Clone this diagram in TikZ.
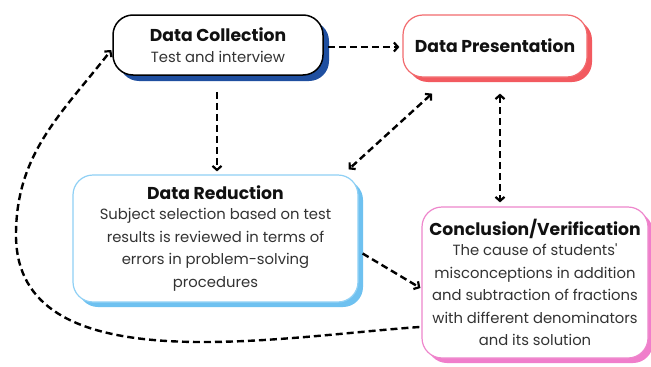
\documentclass[tikz,border=0pt]{standalone}
\usepackage{fontspec}
\setmainfont{Poppins}[Ligatures=TeXOff]
\usetikzlibrary{arrows.meta,shadows,calc}
\definecolor{dcshadow}{HTML}{1F4FA0}
\definecolor{dpborder}{HTML}{F26B6E}
\definecolor{dpshadow}{HTML}{F25A60}
\definecolor{drborder}{HTML}{8FD0F5}
\definecolor{drshadow}{HTML}{6EC1F0}
\definecolor{cvborder}{HTML}{EE86CC}
\definecolor{cvshadow}{HTML}{F07ECB}
\definecolor{bodytext}{HTML}{333333}
\definecolor{titletext}{HTML}{111111}
\newcommand{\boxtitle}[1]{{\fontsize{17.2}{20}\selectfont\bfseries\color{titletext}#1}}
\begin{document}
\begin{tikzpicture}[x=1pt,y=-1pt,
  box/.style={rectangle, rounded corners=20pt, fill=white, align=center, inner sep=0pt,
    font=\fontsize{14.8}{22.5}\selectfont, text=bodytext},
  flow/.style={draw=black, line width=2.4pt, dash pattern=on 7pt off 4pt, -{Straight Barb[length=4pt,width=9pt,line width=2.2pt]}},
  twoway/.style={flow, {Straight Barb[length=4pt,width=9pt,line width=2.2pt]}-{Straight Barb[length=4pt,width=9pt,line width=2.2pt]}}
]
\useasboundingbox (0,0) rectangle (651,367);
\fill[white] (0,0) rectangle (651,367);

\node[box, draw=black, line width=1.5pt, minimum width=210pt, minimum height=60pt,
  drop shadow={shadow xshift=6pt, shadow yshift=-6pt, fill=dcshadow, opacity=1}]
  (DC) at (218,45) {\boxtitle{Data Collection}\\[-1pt]
  Test and interview};

\node[box, draw=dpborder, line width=1.2pt, minimum width=184pt, minimum height=62pt,
  drop shadow={shadow xshift=5pt, shadow yshift=-5pt, fill=dpshadow, opacity=1}]
  (DP) at (495,46) {\boxtitle{Data Presentation}};

\node[box, draw=drborder, line width=1.2pt, minimum width=285pt, minimum height=127pt,
  drop shadow={shadow xshift=5pt, shadow yshift=-5pt, fill=drshadow, opacity=1}]
  (DR) at (215.5,238.5) {\boxtitle{Data Reduction}\\[-2pt]
  Subject selection based on test\\
  results is reviewed in terms of\\
  errors in problem-solving\\
  procedures};

\node[box, draw=cvborder, line width=1.2pt, minimum width=226pt, minimum height=151pt,
  drop shadow={shadow xshift=5pt, shadow yshift=-5pt, fill=cvshadow, opacity=1}]
  (CV) at (535,282.5) {\boxtitle{Conclusion/Verification}\\[-2.5pt]
  The cause of students'\\
  misconceptions in addition\\
  and subtraction of fractions\\
  with different denominators\\
  and its solution};

% connectors
\draw[flow] ([xshift=4pt,yshift=-2pt]DC.east) -- ([xshift=-3pt,yshift=-1pt]DP.west);
\draw[flow] ([xshift=-1pt,yshift=-16pt]DC.south) -- ([xshift=1.5pt,yshift=3pt]DR.north);
\draw[twoway] ([xshift=-63pt,yshift=-16pt]DP.south) -- ([xshift=-10pt,yshift=5pt]DR.north east);
\draw[twoway] ([xshift=5pt,yshift=-16pt]DP.south) -- ([xshift=-35pt,yshift=4pt]CV.north);
\draw[flow] ([xshift=4pt,yshift=-15pt]DR.east) -- ([xshift=-1pt,yshift=-5.5pt]CV.west);
\coordinate (loopL) at (16,235);
\draw[flow] ([xshift=-2pt,yshift=-44.5pt]CV.west) to[out=184,in=270,looseness=0.92] (loopL)
  to[out=90,in=232] ([xshift=-1pt,yshift=-5pt]DC.west);
\end{tikzpicture}
\end{document}
